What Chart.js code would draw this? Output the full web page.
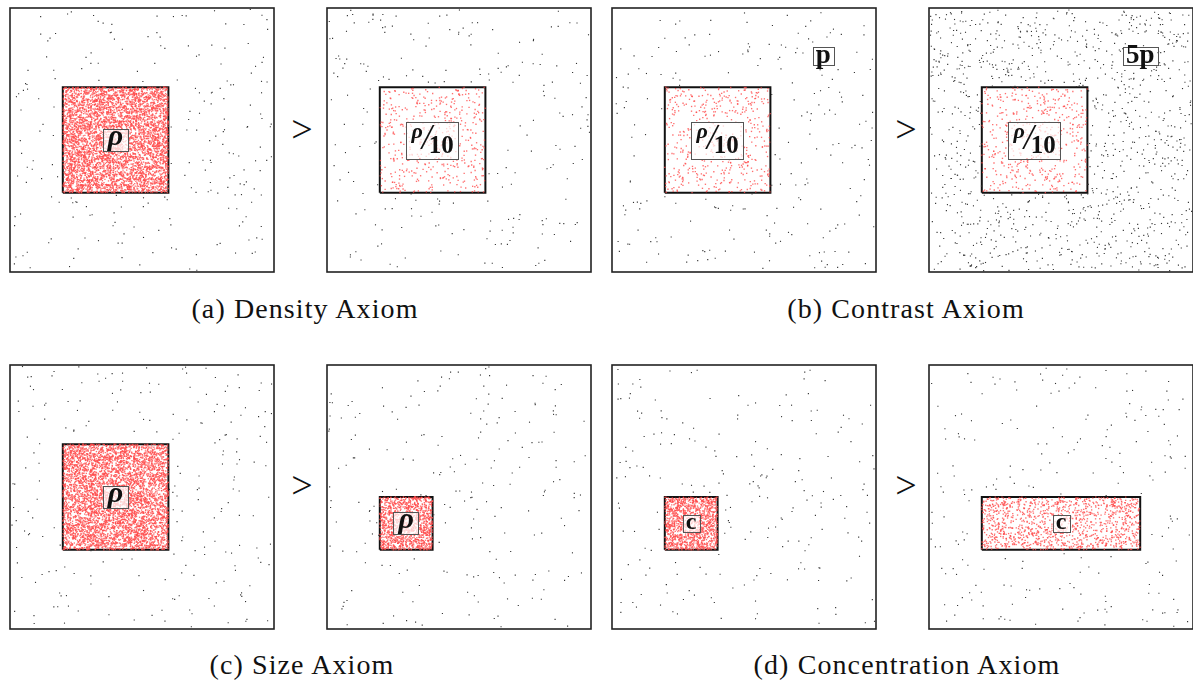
<!DOCTYPE html>
<html>
<head>
<meta charset="utf-8">
<script src="https://cdn.jsdelivr.net/npm/chart.js@4.4.0/dist/chart.umd.min.js"></script>
<style>
  body { margin: 0; width: 1193px; height: 684px; overflow: hidden; background: #fff; position: relative; font-family: "Liberation Serif", serif; }
  .panel { position: absolute; width: 272px; height: 272px; }
  .cap { position: absolute; width: 600px; text-align: center; font-size: 28px; line-height: 28px; letter-spacing: 1.1px; color: #111; white-space: nowrap; }
  .gt { position: absolute; width: 40px; text-align: center; font-size: 38px; line-height: 38px; color: #111; }
</style>
</head>
<body>

<div class="gt" style="left:282px;top:110px">&gt;</div>
<div class="gt" style="left:886px;top:110px">&gt;</div>
<div class="gt" style="left:282px;top:466px">&gt;</div>
<div class="gt" style="left:886px;top:466px">&gt;</div>

<div class="cap" style="left:5px;top:295px">(a) Density Axiom</div>
<div class="cap" style="left:606px;top:295px">(b) Contrast Axiom</div>
<div class="cap" style="left:2px;top:651px">(c) Size Axiom</div>
<div class="cap" style="left:607px;top:651px">(d) Concentration Axiom</div>

<script>
// data of the 8 small panels (unit square, box = region of interest)
const panelNames = ['density-1', 'density-2', 'contrast-1', 'contrast-2', 'size-1', 'size-2', 'conc-1', 'conc-2'];
const boxLeft   = [0.2, 0.2, 0.2, 0.2, 0.2, 0.2, 0.2, 0.2];
const boxRight  = [0.6, 0.6, 0.6, 0.6, 0.6, 0.4, 0.4, 0.8];
const boxBottom = [0.3, 0.3, 0.3, 0.3, 0.3, 0.3, 0.3, 0.3];
const boxTop    = [0.7, 0.7, 0.7, 0.7, 0.7, 0.5, 0.5, 0.5];
const boxDots   = [5000, 500, 500, 500, 5000, 1250, 1250, 1250];   // points inside the box
const noiseDots = [210, 210, 210, 1050, 210, 210, 210, 210];       // background points
const boxLabels   = ['ρ', 'ρ/10', 'ρ/10', 'ρ/10', 'ρ', 'ρ', 'c', 'c'];
const noiseLabels = ['', '', 'p', '5p', '', '', '', ''];

// where the panels go on the page
const panelLeft = [8, 325, 610, 927, 8, 325, 610, 927];
const panelTop  = [6, 6, 6, 6, 363, 363, 363, 363];

// seeded generator, only used to scatter the dot texture
function mulberry32(a) {
  return function () {
    a |= 0; a = a + 0x6D2B79F5 | 0;
    let t = Math.imul(a ^ a >>> 15, 1 | a);
    t = t + Math.imul(t ^ t >>> 7, 61 | t) ^ t;
    return ((t ^ t >>> 14) >>> 0) / 4294967296;
  };
}

function drawLabel(ctx, text, cx, cy, big) {
  ctx.save();
  let w, h, draw;
  if (text === 'ρ/10') {
    const f1 = 'bold italic 22px "Liberation Serif"';
    const f2 = 'italic 36px "Liberation Serif"';
    const f3 = 'bold 25px "Liberation Serif"';
    ctx.font = f1; const w1 = ctx.measureText('ρ').width;
    ctx.font = f2; const w2 = ctx.measureText('/').width;
    ctx.font = f3; const w3 = ctx.measureText('10').width;
    const tw = w1 + w2 - 4 + w3;
    w = tw + 10; h = 37;
    draw = () => {
      let x = cx - tw / 2;
      ctx.font = f1; ctx.fillText('ρ', x, cy - 2); x += w1 - 1;
      ctx.font = f2; ctx.fillText('/', x, cy + 9); x += w2 - 3;
      ctx.font = f3; ctx.fillText('10', x, cy + 13);
    };
  } else {
    let font, base;
    if (text === 'ρ') { font = 'bold italic 30px "Liberation Serif"'; base = 5; h = 22; }
    else if (big) { font = 'bold 27px "Liberation Serif"'; base = 7; h = 18; }
    else { font = 'bold 24px "Liberation Serif"'; base = 6; h = 17; }
    ctx.font = font;
    const tw = ctx.measureText(text).width;
    w = tw + (text === 'ρ' ? 10 : 6);
    draw = () => { ctx.font = font; ctx.fillText(text, cx - tw / 2, cy + base); };
  }
  ctx.fillStyle = 'rgba(255,255,255,0.72)';
  ctx.fillRect(cx - w / 2, cy - h / 2, w, h);
  ctx.strokeStyle = '#555';
  ctx.lineWidth = 1;
  ctx.strokeRect(Math.round(cx - w / 2) + 0.5, Math.round(cy - h / 2) + 0.5, Math.round(w), Math.round(h));
  ctx.fillStyle = '#111';
  draw();
  ctx.restore();
}

const framePlugin = {
  id: 'frame',
  afterDatasetsDraw(chart) {
    const i = chart.options.plugins.frame.index;
    const ctx = chart.ctx;
    const xs = chart.scales.x, ys = chart.scales.y;
    const cx = xs.getPixelForValue((boxLeft[i] + boxRight[i]) / 2);
    const cy = ys.getPixelForValue((boxBottom[i] + boxTop[i]) / 2);
    drawLabel(ctx, boxLabels[i], cx, cy, false);
    if (noiseLabels[i]) {
      drawLabel(ctx, noiseLabels[i], xs.getPixelForValue(0.8), ys.getPixelForValue(0.82), true);
    }
    const a = chart.chartArea;
    ctx.save();
    ctx.strokeStyle = '#222';
    ctx.lineWidth = 1.6;
    ctx.strokeRect(a.left, a.top, a.right - a.left, a.bottom - a.top);
    ctx.restore();
  }
};

panelNames.forEach((name, i) => {
  const div = document.createElement('div');
  div.className = 'panel';
  div.style.left = (panelLeft[i] - 2) + 'px';
  div.style.top = (panelTop[i] - 2) + 'px';
  const cv = document.createElement('canvas');
  cv.width = 272; cv.height = 272;
  div.appendChild(cv);
  document.body.appendChild(div);

  const rnd = mulberry32(1234 + i * 97);
  const inside = [];
  for (let k = 0; k < boxDots[i]; k++) {
    inside.push({ x: boxLeft[i] + rnd() * (boxRight[i] - boxLeft[i]), y: boxBottom[i] + rnd() * (boxTop[i] - boxBottom[i]) });
  }
  const noise = [];
  while (noise.length < noiseDots[i]) {
    const p = { x: 0.005 + rnd() * 0.99, y: 0.005 + rnd() * 0.99 };
    if (p.x > boxLeft[i] && p.x < boxRight[i] && p.y > boxBottom[i] && p.y < boxTop[i]) continue;
    noise.push(p);
  }
  const outline = [
    { x: boxLeft[i], y: boxBottom[i] }, { x: boxRight[i], y: boxBottom[i] },
    { x: boxRight[i], y: boxTop[i] }, { x: boxLeft[i], y: boxTop[i] }, { x: boxLeft[i], y: boxBottom[i] }
  ];

  new Chart(cv, {
    type: 'scatter',
    data: {
      datasets: [
        { label: 'noise', data: noise, pointStyle: 'rect', pointRadius: 0.8, backgroundColor: '#333', borderWidth: 0 },
        { label: 'box', data: inside, pointStyle: 'rect', pointRadius: 0.95, backgroundColor: 'rgba(255,75,75,0.8)', borderWidth: 0 },
        { label: 'outline', data: outline, showLine: true, borderColor: '#111', borderWidth: 2, pointRadius: 0, fill: false, tension: 0 }
      ]
    },
    options: {
      responsive: false,
      animation: false,
      devicePixelRatio: 1,
      events: [],
      layout: { padding: 2 },
      scales: {
        x: { type: 'linear', min: 0, max: 1, display: false },
        y: { type: 'linear', min: 0, max: 1, display: false }
      },
      plugins: { legend: { display: false }, tooltip: { enabled: false }, frame: { index: i } }
    },
    plugins: [framePlugin]
  });
});
</script>
</body>
</html>
